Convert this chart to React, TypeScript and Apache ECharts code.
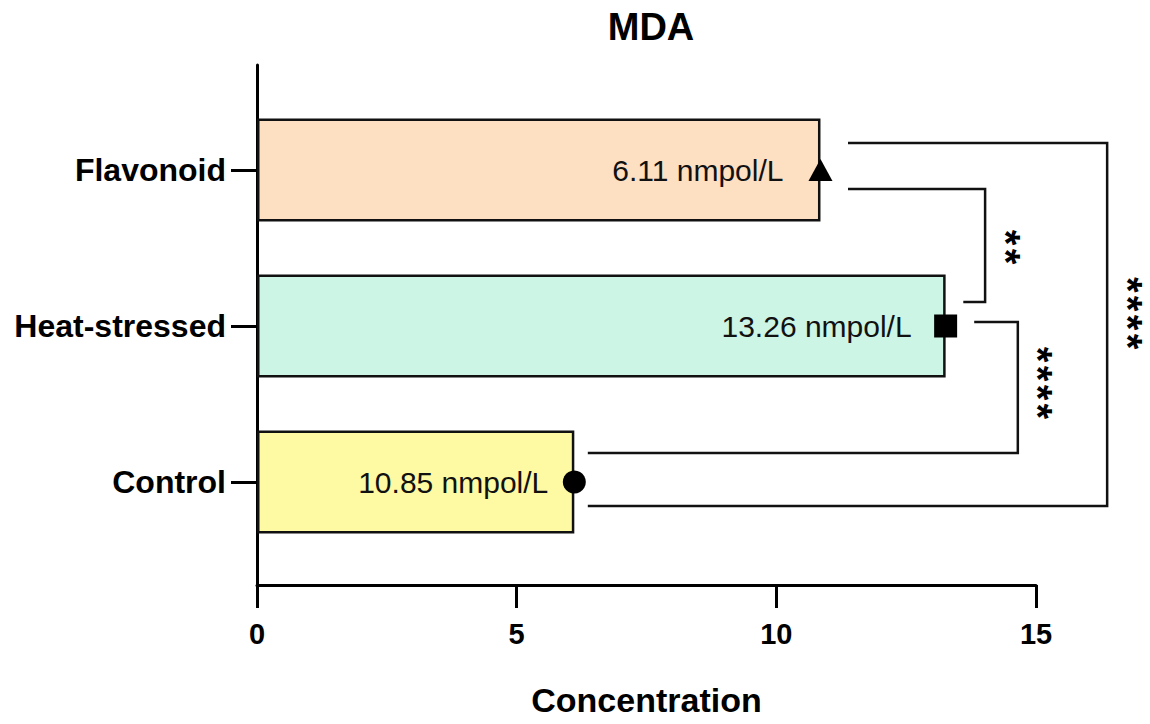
import React, { useEffect, useRef } from "react";
import * as echarts from "echarts";

// ---- data ----
const categories = ["Control", "Heat-stressed", "Flavonoid"];
const values = [6.11, 13.26, 10.85];
const valueLabels = ["10.85 nmpol/L", "13.26 nmpol/L", "6.11 nmpol/L"];
const barColors = ["#FDFAA3", "#CDF5E6", "#FDDFC2"];
const markerSymbols = ["circle", "rect", "triangle"];
const labelGaps = [26, 34, 37];
const xMin = 0;
const xMax = 15;
const xInterval = 5;
const chartTitle = "MDA";
const xAxisName = "Concentration";

// significance brackets (x in concentration units, y in category positions)
const bracketPaths = [
  [[11.38, 2.173], [16.37, 2.173], [16.37, -0.154], [6.37, -0.154]],
  [[11.38, 1.878], [14.02, 1.878], [14.02, 1.154], [13.6, 1.154]],
  [[13.81, 1.026], [14.65, 1.026], [14.65, 0.186], [6.37, 0.186]],
];
const starTexts = ["****", "**", "****"];
const starPositions = [[16.77, 1.083], [14.42, 1.506], [15.03, 0.635]];

const FONT = "'Liberation Sans', Arial, Helvetica, sans-serif";

export default function App() {
  const ref = useRef<HTMLDivElement>(null);
  useEffect(() => {
    if (!ref.current) return;
    const chart = echarts.init(ref.current, null, { renderer: "svg" });
    const option: any = {
      animation: false,
      backgroundColor: "#ffffff",
      textStyle: { fontFamily: FONT },
      title: {
        text: chartTitle,
        left: 646,
        top: 3,
        textAlign: "center",
        textStyle: { fontFamily: FONT, fontSize: 38, fontWeight: "bold", color: "#000" },
      },
      grid: [
        { left: 257, right: 114, top: 92, height: 468, containLabel: false },
        { left: 257, right: 114, top: 65, height: 520, containLabel: false },
      ],
      xAxis: [
        { gridIndex: 0, type: "value", min: xMin, max: xMax, show: false },
        {
          gridIndex: 1,
          type: "value",
          min: xMin,
          max: xMax,
          interval: xInterval,
          name: xAxisName,
          nameLocation: "middle",
          nameGap: 98,
          nameTextStyle: { fontFamily: FONT, fontSize: 34, fontWeight: "bold", color: "#000" },
          axisLine: { show: true, onZero: false, lineStyle: { color: "#000", width: 3 } },
          axisTick: { show: true, length: 23, lineStyle: { color: "#000", width: 3 } },
          axisLabel: { fontFamily: FONT, fontSize: 29, fontWeight: "bold", color: "#000", margin: 34 },
          splitLine: { show: false },
        },
      ],
      yAxis: [
        {
          gridIndex: 0,
          type: "category",
          data: categories,
          axisLine: { show: false },
          axisTick: { show: true, alignWithLabel: true, length: 26, lineStyle: { color: "#000", width: 3 } },
          axisLabel: { fontFamily: FONT, fontSize: 32, fontWeight: "bold", color: "#000", margin: 31 },
          splitLine: { show: false },
        },
        {
          gridIndex: 1,
          type: "value",
          min: -0.66,
          max: 2.673,
          axisLine: { show: true, onZero: false, lineStyle: { color: "#000", width: 3 } },
          axisTick: { show: false },
          axisLabel: { show: false },
          splitLine: { show: false },
        },
      ],
      series: [
        {
          type: "bar",
          xAxisIndex: 0,
          yAxisIndex: 0,
          barWidth: 103,
          data: values.map((v, i) => ({
            value: v,
            itemStyle: { color: barColors[i], borderColor: "#111", borderWidth: 2.5 },
            label: {
              show: true,
              position: "insideRight",
              distance: labelGaps[i],
              formatter: () => valueLabels[i],
              fontFamily: FONT,
              fontSize: 30,
              color: "#111",
            },
          })),
        },
        {
          type: "scatter",
          xAxisIndex: 0,
          yAxisIndex: 0,
          z: 5,
          data: values.map((v, i) => ({
            value: [v, i],
            symbol: markerSymbols[i],
            symbolSize: markerSymbols[i] === "triangle" ? [24, 22] : 23,
          })),
          itemStyle: { color: "#000", opacity: 1 },
        },
        {
          type: "lines",
          coordinateSystem: "cartesian2d",
          xAxisIndex: 1,
          yAxisIndex: 1,
          polyline: true,
          clip: false,
          silent: true,
          lineStyle: { color: "#111", width: 2.5, opacity: 1 },
          data: bracketPaths.map((p) => ({ coords: p })),
        },
        {
          type: "scatter",
          xAxisIndex: 1,
          yAxisIndex: 1,
          clip: false,
          silent: true,
          symbolSize: 1,
          itemStyle: { color: "rgba(0,0,0,0)", opacity: 1 },
          data: starPositions.map((p) => p),
          label: {
            show: true,
            position: "inside",
            rotate: -90,
            formatter: (p: any) => starTexts[p.dataIndex].split("").join("\u200A"),
            fontFamily: FONT,
            fontSize: 40,
            fontWeight: "bold",
            color: "#000",
          },
        },
      ],
    };
    chart.setOption(option);
    return () => chart.dispose();
  }, []);
  return (
    <div
      ref={ref}
      style={{ position: "fixed", left: 0, top: 0, width: 1150, height: 724, background: "#fff" }}
    />
  );
}
